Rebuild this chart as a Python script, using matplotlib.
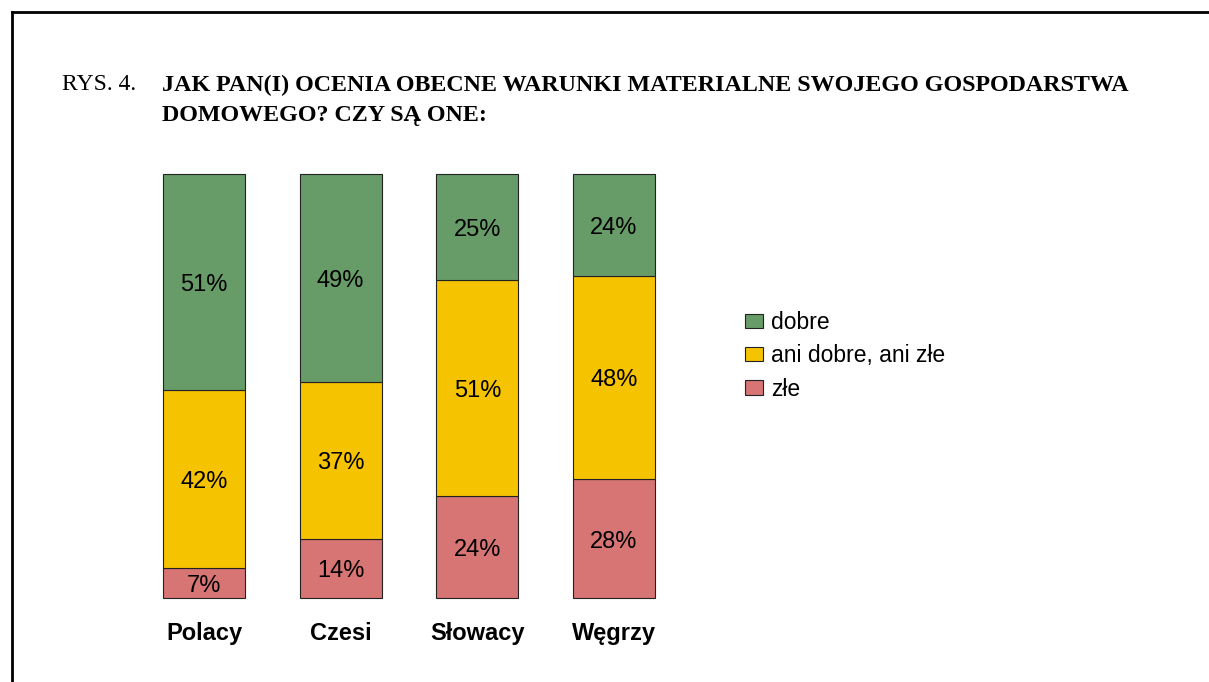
import numpy as np
import matplotlib.pyplot as plt
from matplotlib.lines import Line2D

groups = ['Polacy', 'Czesi', 'Słowacy', 'Węgrzy']
zle = [7, 14, 24, 28]
ani = [42, 37, 51, 48]
dobre = [51, 49, 25, 24]
series_names = ['dobre', 'ani dobre, ani złe', 'złe']
colors = {'dobre': '#679c68', 'ani dobre, ani złe': '#f6c300', 'złe': '#d67574'}

W, H = 1209, 682
fig = plt.figure(figsize=(W / 100, H / 100), dpi=100)
plt.rcParams['font.family'] = ['Liberation Sans', 'DejaVu Sans']

# frame lines (left and top only, the rest is cut off)
fig.add_artist(Line2D([12 / W, 12 / W], [0, 1 - 12 / H], color='black', lw=2))
fig.add_artist(Line2D([12 / W, 1], [1 - 12 / H, 1 - 12 / H], color='black', lw=2))

# title
fig.text(62 / W, 1 - 85 / H, 'RYS. 4.', family='Liberation Serif', fontsize=17, va='center')
fig.text(162 / W, 1 - 85 / H, 'JAK PAN(I) OCENIA OBECNE WARUNKI MATERIALNE SWOJEGO GOSPODARSTWA',
         family='Liberation Serif', fontsize=17.3, fontweight='bold', va='center')
fig.text(162 / W, 1 - 115 / H, 'DOMOWEGO? CZY SĄ ONE:',
         family='Liberation Serif', fontsize=17.3, fontweight='bold', va='center')

ax = fig.add_axes([163 / W, (H - 598) / H, 492 / W, 424 / H])
x = np.arange(len(groups))
width = 0.6
ec = '#222222'
b1 = ax.bar(x, zle, width, color=colors['złe'], edgecolor=ec, lw=0.8, label='złe', clip_on=False)
b2 = ax.bar(x, ani, width, bottom=zle, color=colors['ani dobre, ani złe'], edgecolor=ec, lw=0.8,
            label='ani dobre, ani złe', clip_on=False)
bot = np.array(zle) + np.array(ani)
b3 = ax.bar(x, dobre, width, bottom=bot, color=colors['dobre'], edgecolor=ec, lw=0.8, label='dobre',
            clip_on=False)

fs = 17
dy = 0.7  # small downward nudge so labels sit in the middle of each segment
for i in range(len(groups)):
    ax.text(x[i], zle[i] / 2 - dy, f'{zle[i]}%', ha='center', va='center', fontsize=fs)
    ax.text(x[i], zle[i] + ani[i] / 2 - dy, f'{ani[i]}%', ha='center', va='center', fontsize=fs)
    ax.text(x[i], bot[i] + dobre[i] / 2 - dy, f'{dobre[i]}%', ha='center', va='center', fontsize=fs)
    ax.text(x[i], -8.4, groups[i], ha='center', va='center', fontsize=fs, fontweight='bold')

ax.set_xlim(-0.3, 3.3)
ax.set_ylim(0, 100)
ax.axis('off')

fig.legend([b3, b2, b1], series_names, loc='upper left', bbox_to_anchor=(745 / W, 1 - 311 / H),
           frameon=False, fontsize=16.5, handlelength=0.8, handleheight=0.57,
           handletextpad=0.35, labelspacing=0.45, borderpad=0, borderaxespad=0)

fig.savefig('out.png', dpi=100)
